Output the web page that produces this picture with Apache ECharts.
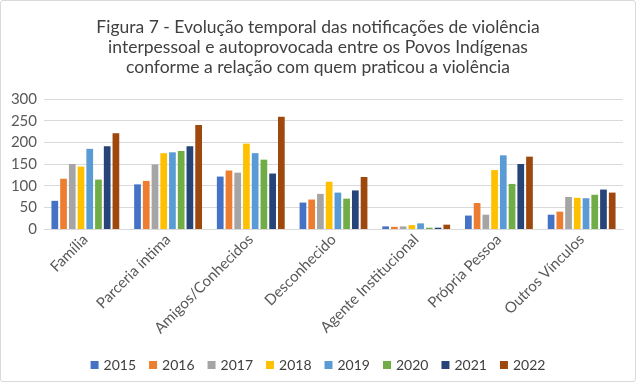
<!DOCTYPE html>
<html><head><meta charset="utf-8">
<script src="https://cdn.jsdelivr.net/npm/echarts@6/dist/echarts.min.js"></script>
<style>
html,body{margin:0;padding:0;background:#fff;}
#c{position:absolute;left:0;top:0;width:636px;height:382px;}
#frame{position:absolute;left:0;top:0;width:634px;height:380px;border:1px solid #d9d9d9;border-radius:3px;pointer-events:none;}
</style></head>
<body><div id="c"></div><div id="frame"></div>
<script>
const categories = ["Família","Parceria íntima","Amigos/Conhecidos","Desconhecido","Agente Institucional","Própria Pessoa","Outros Vínculos"];
const years = ["2015","2016","2017","2018","2019","2020","2021","2022"];
const v2015 = [65,103,121,61,6,31,33];
const v2016 = [116,111,135,68,5,60,40];
const v2017 = [150,149,130,81,6,33,74];
const v2018 = [144,175,197,109,9,136,72];
const v2019 = [185,177,175,84,13,170,71];
const v2020 = [114,180,160,70,3,104,79];
const v2021 = [191,191,128,89,3,150,91];
const v2022 = [221,240,259,120,10,167,84];
const yearValues = [v2015,v2016,v2017,v2018,v2019,v2020,v2021,v2022];
const colors = ["#4472C4","#ED7D31","#A5A5A5","#FFC000","#5B9BD5","#70AD47","#264478","#9E480E"];
const titleText = "Figura 7 - Evolução temporal das notificações de violência\ninterpessoal e autoprovocada entre os Povos Indígenas\nconforme a relação com quem praticou a violência";

const chart = echarts.init(document.getElementById('c'), null, {renderer:'canvas'});
chart.setOption({
  animation:false,
  color: colors,
  textStyle:{fontFamily:'Lato'},
  title:{
    text:titleText, left:'center', top:12,
    textStyle:{fontFamily:'Lato', fontSize:17.5, fontWeight:'normal', color:'#404040', lineHeight:20}
  },
  legend:{
    bottom:5, left:'center', itemWidth:8, itemHeight:8, itemGap:13,
    icon:'rect',
    textStyle:{fontFamily:'Lato', fontSize:14, color:'#404040'},
    data: years
  },
  grid:{left:44, right:13, top:99, bottom:153, containLabel:false},
  xAxis:{
    type:'category', data:categories,
    axisLine:{lineStyle:{color:'#d9d9d9', width:1}},
    axisTick:{show:false},
    axisLabel:{rotate:45, fontFamily:'Lato', fontSize:15, color:'#595959', margin:8, interval:0}
  },
  yAxis:{
    type:'value', min:0, max:300, interval:50,
    axisLine:{show:false}, axisTick:{show:false},
    splitLine:{lineStyle:{color:'#d9d9d9', width:1}},
    axisLabel:{fontFamily:'Lato', fontSize:15, color:'#595959', margin:7}
  },
  series: years.map((y,i)=>({
    name:y, type:'bar', data:yearValues[i],
    barGap:'30%', barCategoryGap:'18%'
  }))
});
</script>
</body></html>
